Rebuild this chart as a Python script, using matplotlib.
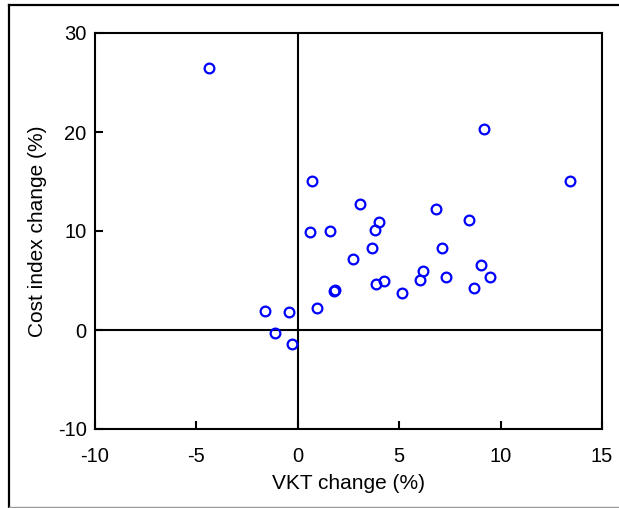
import matplotlib
matplotlib.use('Agg')
import matplotlib.pyplot as plt
from matplotlib.lines import Line2D

plt.rcParams['font.family'] = ['Liberation Sans', 'DejaVu Sans']
plt.rcParams['axes.unicode_minus'] = False

# VKT change vs cost index change, both in percent
vkt_change = [-4.37, 0.72, 9.18, 13.43, 3.09, 6.83, 4.0, 3.79, 0.62, 1.58,
              8.44, 7.09, 3.68, 2.73, 1.77, 1.82, 0.97, 3.84, 4.24, 5.12,
              6.02, 6.15, 7.32, 9.01, 9.49, 8.67, -1.61, -0.44, -1.1, -0.28]
cost_change = [26.5, 15.1, 20.27, 15.08, 12.7, 12.2, 10.9, 10.1, 9.9, 10.0,
               11.1, 8.28, 8.25, 7.14, 3.97, 4.05, 2.2, 4.6, 5.0, 3.78,
               5.05, 5.95, 5.39, 6.53, 5.39, 4.24, 1.92, 1.79, -0.34, -1.45]

x_ticks = [-10, -5, 0, 5, 10, 15]
y_ticks = [-10, 0, 10, 20, 30]

fig = plt.figure(figsize=(6.19, 5.08), dpi=100)
ax = fig.add_axes([95 / 619, 1 - 429 / 508, 507 / 619, 396 / 508])

ax.axvline(0, color='black', lw=1.5, zorder=1)
ax.axhline(0, color='black', lw=1.5, zorder=1)
ax.plot(vkt_change, cost_change, 'o', ms=7, mfc='none', mec='#0000ff',
        mew=1.6, zorder=3)

ax.set_xlim(-10, 15)
ax.set_ylim(-10, 30)
ax.set_xticks(x_ticks)
ax.set_yticks(y_ticks)
ax.tick_params(direction='in', length=6, width=1.5, labelsize=14.5, color='black')
ax.tick_params(axis='x', pad=13)
ax.tick_params(axis='y', pad=6)
for s in ax.spines.values():
    s.set_linewidth(1.5)

ax.set_xlabel('VKT change (%)', fontsize=15, labelpad=6)
ax.set_ylabel('Cost index change (%)', fontsize=15, labelpad=8)

# frame around the figure: dark top/left edges, light bottom edge
fig.add_artist(Line2D([8.5 / 619, 8.5 / 619], [1 - 5 / 508, 0], color='black', lw=1.6))
fig.add_artist(Line2D([8.5 / 619, 1], [1 - 5 / 508, 1 - 5 / 508], color='black', lw=1.6))
fig.add_artist(Line2D([8.5 / 619, 1], [1.5 / 508, 1.5 / 508], color='#999999', lw=1))

fig.savefig('out.png', dpi=100)
